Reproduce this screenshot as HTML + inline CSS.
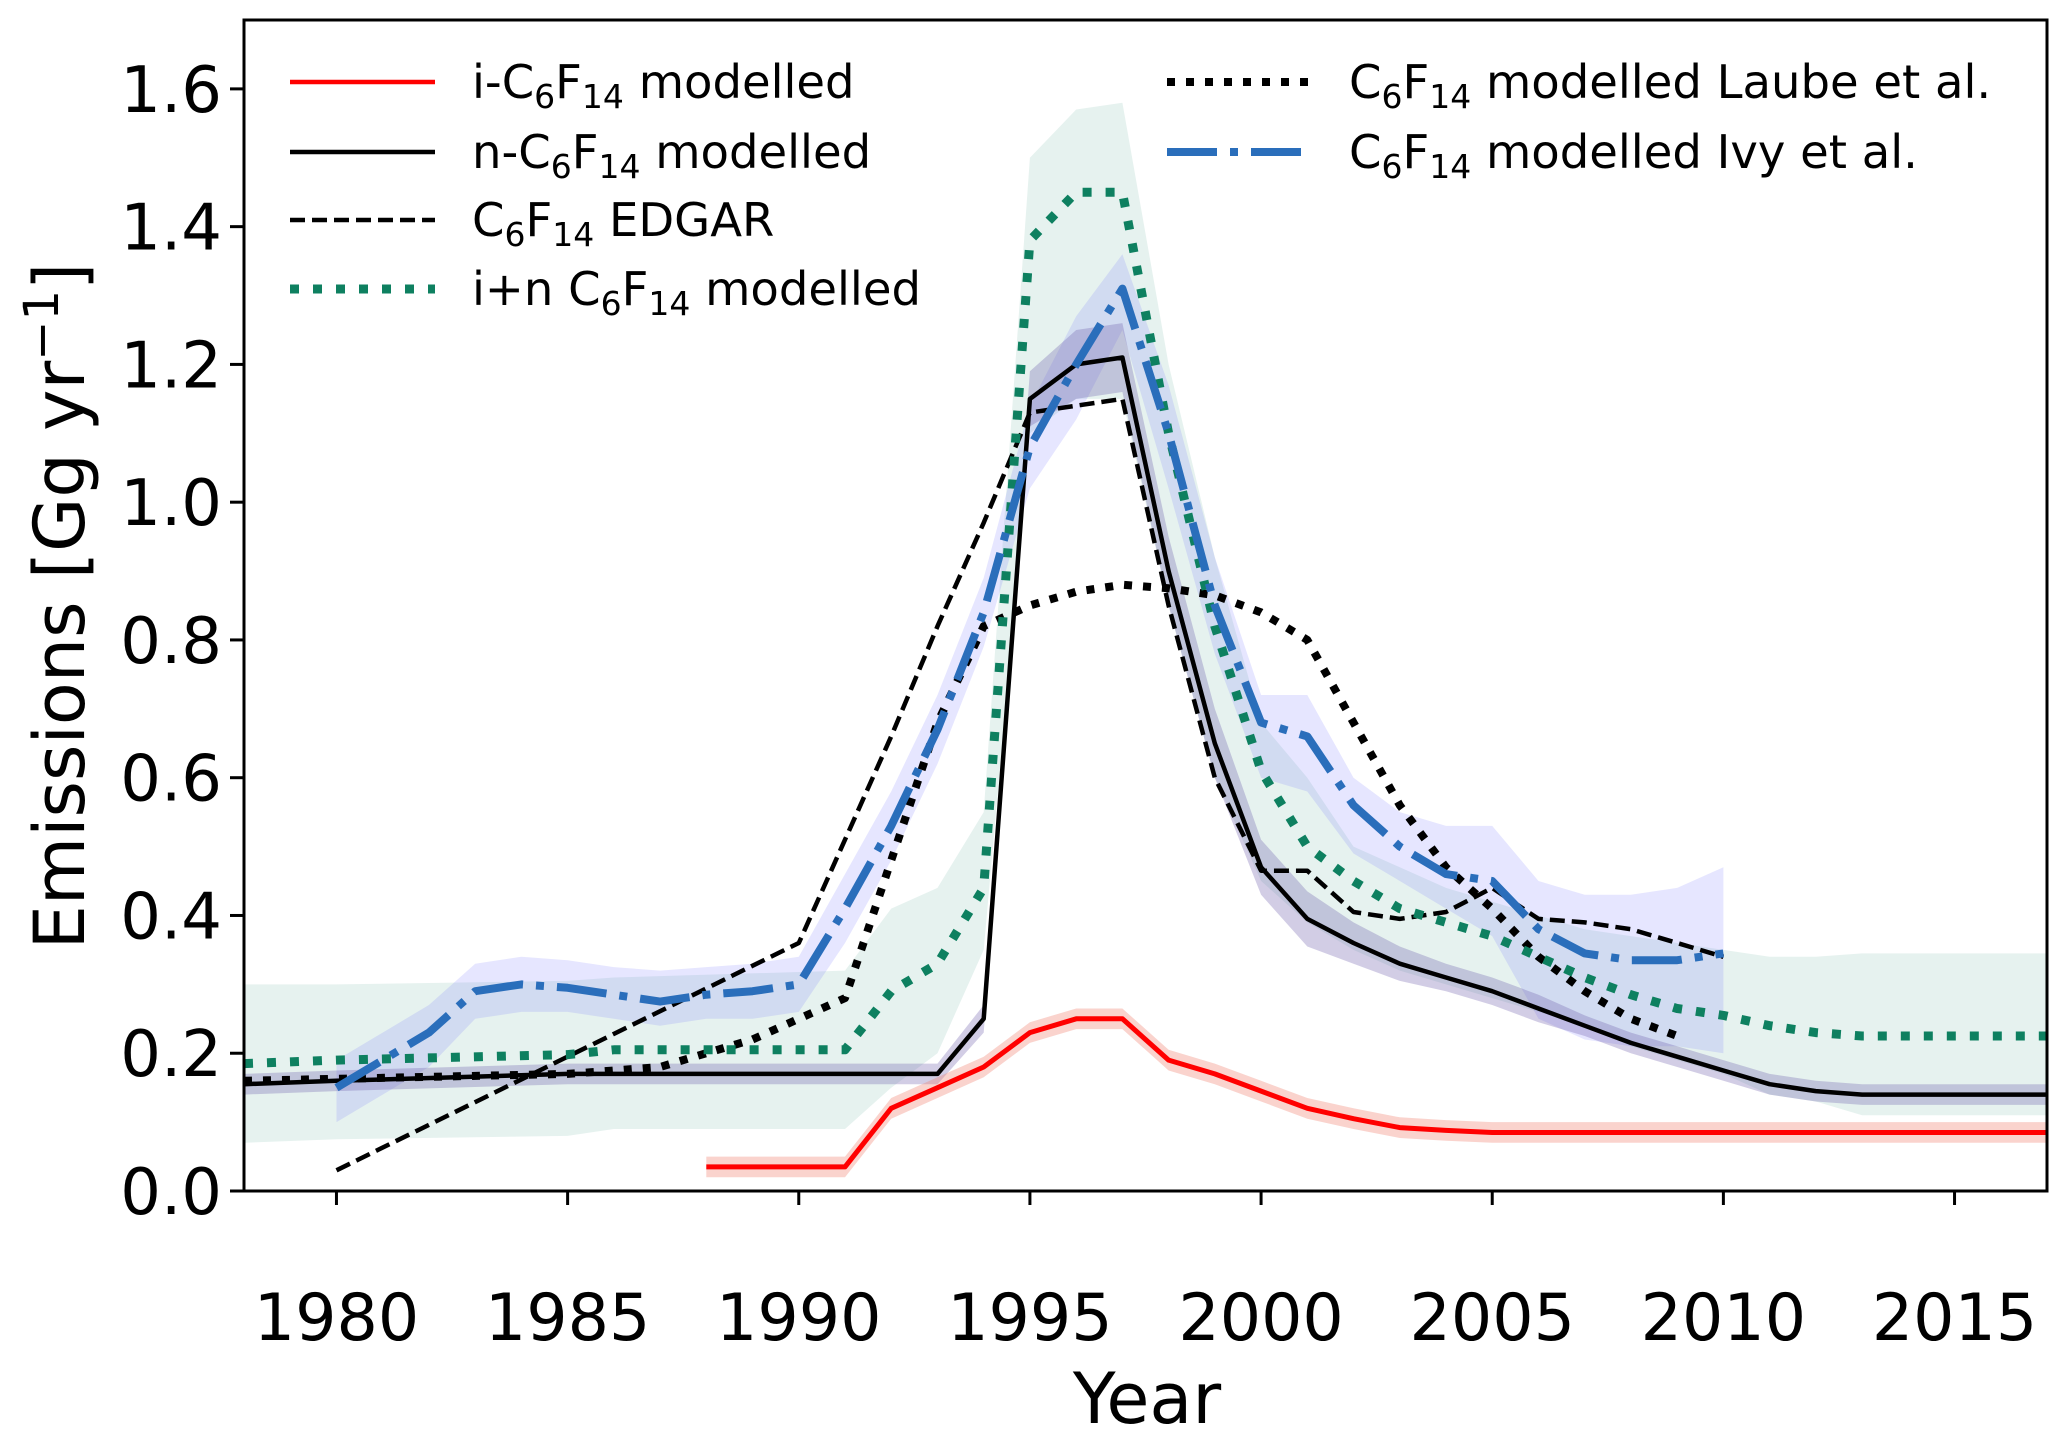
<!DOCTYPE html>
<html><head><meta charset="utf-8"><style>
html,body{margin:0;padding:0;background:#fff;}
svg{display:block;font-family:"DejaVu Sans","Liberation Sans",sans-serif;}
</style></head><body>
<svg id="chart" width="2067" height="1442" viewBox="0 0 2067 1442" xmlns="http://www.w3.org/2000/svg">
<g id="bands"></g>
<g id="lines"></g>
<g id="axes"></g>
<g id="legend"></g>
</svg>
<script>
const iYears = [1988,1991,1992,1993,1994,1995,1996,1997,1998,1999,2000,2001,2002,2003,2004,2005,2010,2017];
const iVals  = [0.035,0.035,0.12,0.15,0.18,0.23,0.25,0.25,0.19,0.17,0.145,0.12,0.105,0.092,0.088,0.085,0.085,0.085];
const nYears = [1978,1980,1985,1993,1994,1995,1996,1997,1998,1999,2000,2001,2002,2003,2004,2005,2006,2007,2008,2009,2010,2011,2012,2013,2017];
const nVals  = [0.155,0.16,0.17,0.17,0.25,1.15,1.2,1.21,0.9,0.65,0.47,0.395,0.36,0.33,0.31,0.29,0.265,0.24,0.215,0.195,0.175,0.155,0.145,0.14,0.14];
const nErr   = [0.015,0.015,0.015,0.015,0.02,0.04,0.05,0.05,0.05,0.05,0.04,0.04,0.03,0.025,0.02,0.02,0.02,0.015,0.015,0.015,0.015,0.015,0.015,0.015,0.015];
const edYears = [1980,1990,1991,1992,1993,1994,1995,1996,1997,1998,1999,2000,2001,2002,2003,2004,2005,2006,2007,2008,2009,2010];
const edVals  = [0.03,0.36,0.51,0.66,0.82,0.97,1.13,1.14,1.15,0.85,0.6,0.465,0.465,0.405,0.395,0.405,0.44,0.395,0.39,0.38,0.36,0.34];
const gYears = [1978,1980,1985,1986,1991,1992,1993,1994,1995,1996,1997,1998,1999,2000,2001,2002,2003,2004,2005,2006,2007,2008,2009,2010,2011,2012,2013,2017];
const gVals  = [0.185,0.19,0.198,0.205,0.205,0.29,0.33,0.44,1.38,1.45,1.45,1.1,0.82,0.61,0.5,0.45,0.41,0.39,0.37,0.34,0.31,0.285,0.265,0.255,0.24,0.23,0.225,0.225];
const gLow   = [0.07,0.075,0.08,0.09,0.09,0.15,0.2,0.35,1.1,1.15,1.15,0.85,0.6,0.45,0.39,0.35,0.32,0.3,0.28,0.26,0.24,0.21,0.19,0.17,0.14,0.13,0.11,0.11];
const gHigh  = [0.3,0.3,0.305,0.31,0.32,0.41,0.44,0.55,1.5,1.57,1.58,1.2,0.92,0.68,0.6,0.5,0.47,0.44,0.42,0.4,0.38,0.37,0.36,0.35,0.34,0.34,0.345,0.345];
const lYears = [1978,1985,1986,1987,1988,1989,1990,1991,1992,1993,1994,1995,1996,1997,1998,1999,2000,2001,2002,2003,2004,2005,2006,2007,2008,2009];
const lVals  = [0.16,0.17,0.175,0.18,0.2,0.22,0.25,0.28,0.48,0.68,0.82,0.85,0.87,0.88,0.875,0.865,0.84,0.8,0.68,0.56,0.47,0.41,0.34,0.29,0.25,0.225];
const bYears = [1980,1981,1982,1983,1984,1985,1986,1987,1988,1989,1990,1991,1992,1993,1994,1995,1996,1997,1998,1999,2000,2001,2002,2003,2004,2005,2006,2007,2008,2009,2010];
const bVals  = [0.15,0.19,0.23,0.29,0.3,0.295,0.285,0.275,0.285,0.29,0.3,0.41,0.53,0.67,0.84,1.08,1.2,1.31,1.1,0.85,0.68,0.66,0.56,0.5,0.46,0.45,0.38,0.345,0.335,0.335,0.345];
const bLow   = [0.1,0.14,0.18,0.25,0.26,0.26,0.25,0.24,0.25,0.25,0.26,0.36,0.48,0.62,0.79,1.02,1.12,1.25,1.02,0.78,0.6,0.58,0.49,0.45,0.41,0.37,0.25,0.22,0.21,0.21,0.2];
const bHigh  = [0.19,0.23,0.27,0.33,0.34,0.335,0.325,0.32,0.325,0.33,0.34,0.46,0.58,0.72,0.89,1.14,1.27,1.36,1.17,0.92,0.72,0.72,0.6,0.55,0.53,0.53,0.45,0.43,0.43,0.44,0.47];
const xTicks = [1980,1985,1990,1995,2000,2005,2010,2015];
const yTicks = [0.0,0.2,0.4,0.6,0.8,1.0,1.2,1.4,1.6];

const L=244,R=2047,T=20,B=1191, X0=1978,X1=2017,Y0=0,Y1=1.7;
const sx=v=>L+(v-X0)/(X1-X0)*(R-L);
const sy=v=>B-(v-Y0)/(Y1-Y0)*(B-T);
const NS='http://www.w3.org/2000/svg';
function mk(tag,parent,attrs){const e=document.createElementNS(NS,tag);for(const k in attrs)e.setAttribute(k,attrs[k]);parent.appendChild(e);return e;}
const pts=(xs,ys)=>xs.map((x,i)=>sx(x).toFixed(1)+','+sy(ys[i]).toFixed(1)).join(' ');
const bandPts=(xs,lo,hi)=>pts(xs,hi)+' '+pts(xs.slice().reverse(),lo.slice().reverse());

const bands=document.getElementById('bands'), lines=document.getElementById('lines');
let e;
e=mk('polygon',bands,{points:bandPts(gYears,gLow,gHigh),fill:'#0e8060','fill-opacity':'0.1'});


e=mk('polygon',bands,{points:bandPts(bYears,bLow,bHigh),fill:'#6b6bff','fill-opacity':'0.17'});


e=mk('polygon',bands,{points:bandPts(nYears,nVals.map((v,i)=>v-nErr[i]),nVals.map((v,i)=>v+nErr[i])),fill:'#6a5aa8','fill-opacity':'0.3'});


e=mk('polygon',bands,{points:bandPts(iYears,iVals.map(v=>v-0.015),iVals.map(v=>v+0.015)),fill:'#f08070','fill-opacity':'0.35'});



const common={fill:'none','stroke-linejoin':'round'};
e=mk('polyline',lines,Object.assign({points:pts(edYears,edVals),stroke:'#000','stroke-width':4.5,'stroke-dasharray':'15 7'},common));


e=mk('polyline',lines,Object.assign({points:pts(lYears,lVals),stroke:'#000','stroke-width':8,'stroke-dasharray':'8 11'},common));


e=mk('polyline',lines,Object.assign({points:pts(nYears,nVals),stroke:'#000','stroke-width':4.5},common));


e=mk('polyline',lines,Object.assign({points:pts(gYears,gVals),stroke:'#0e8060','stroke-width':9,'stroke-dasharray':'9 14'},common));


e=mk('polyline',lines,Object.assign({points:pts(bYears,bVals),stroke:'#2a6ebb','stroke-width':8,'stroke-dasharray':'50 13 8 13'},common));


e=mk('polyline',lines,Object.assign({points:pts(iYears,iVals),stroke:'#ff0000','stroke-width':5},common));



const axes=document.getElementById('axes');
e=mk('rect',axes,{x:L,y:T,width:R-L,height:B-T,fill:'none',stroke:'#000','stroke-width':3});


xTicks.forEach(t=>{
  const x=sx(t);
  let k=mk('line',axes,{x1:x,x2:x,y1:B,y2:B+14,stroke:'#000','stroke-width':3});
  
  
  let s=mk('text',axes,{x:x,y:1340,'text-anchor':'middle','font-size':65});
  s.textContent=t;
  
  
});
yTicks.forEach(t=>{
  const y=sy(t);
  let k=mk('line',axes,{x1:L-14,x2:L,y1:y,y2:y,stroke:'#000','stroke-width':3});
  
  
  let s=mk('text',axes,{x:222,y:y+23,'text-anchor':'end','font-size':64});
  s.textContent=t.toFixed(1);
  
  
});
e=mk('text',axes,{x:1147,y:1423,'text-anchor':'middle','font-size':70});
e.textContent='Year';


e=mk('text',axes,{x:0,y:0,'text-anchor':'middle','font-size':70,transform:'translate(84,606) rotate(-90)'});
e.innerHTML='Emissions [Gg yr<tspan dy="-26" font-size="48">−1</tspan><tspan dy="26">]</tspan>';



const legend=document.getElementById('legend');
const items=[
 {x:290,tx:472,y:82,pre:'i-C',post:' modelled',stroke:'#ff0000',w:4.5,dash:'',name:'legend-i-c6f14'},
 {x:290,tx:472,y:152,pre:'n-C',post:' modelled',stroke:'#000',w:4.5,dash:'',name:'legend-n-c6f14'},
 {x:290,tx:472,y:220,pre:'C',post:' EDGAR',stroke:'#000',w:4.5,dash:'15 7',name:'legend-edgar'},
 {x:290,tx:472,y:289,pre:'i+n C',post:' modelled',stroke:'#0e8060',w:9,dash:'9 14',name:'legend-i-plus-n'},
 {x:1167,tx:1349,y:82,pre:'C',post:' modelled Laube et al.',stroke:'#000',w:8,dash:'8 11',name:'legend-laube'},
 {x:1167,tx:1349,y:152,pre:'C',post:' modelled Ivy et al.',stroke:'#2a6ebb',w:8,dash:'50 13 8 13',name:'legend-ivy'}
];
items.forEach(it=>{
  let l=mk('line',legend,{x1:it.x,x2:it.x+145,y1:it.y,y2:it.y,stroke:it.stroke,'stroke-width':it.w,'stroke-dasharray':it.dash});
  
  
  let s=mk('text',legend,{x:it.tx,y:it.y+16,'font-size':46.5});
  s.innerHTML=it.pre+'<tspan dy="10" font-size="33">6</tspan><tspan dy="-10">F</tspan><tspan dy="10" font-size="33">14</tspan><tspan dy="-10">'+it.post+'</tspan>';
  
  
});
</script>
</body></html>
